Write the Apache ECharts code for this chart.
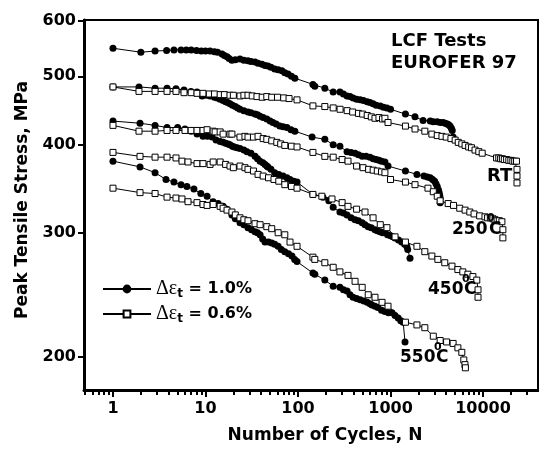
<!DOCTYPE html>
<html><head><meta charset="utf-8">
<script src="https://cdn.jsdelivr.net/npm/echarts@6/dist/echarts.min.js"></script>
<style>html,body{margin:0;padding:0;background:#fff}#c{width:539px;height:450px}</style>
</head><body><div id="c"></div>
<script>
// Cycles N, peak tensile stress (MPa)
const rt10 = [[1,548],[2,541],[2.85,543],[3.8,544],[4.56,545],[5.44,545],[6.2,545],[7,545],[8,544],[9,543],[10,543],[11.2,543],[12.5,542],[13.5,541],[15.1,538],[16,535],[17.1,533],[18,530],[19.3,527],[21,528],[23.6,529],[26,527],[28.8,526],[31,525],[34.3,524],[37,522],[40.8,520],[44,518],[47.3,517],[51,515],[56,512],[61,511],[67,509],[72,506],[78,504],[85,500],[92.5,497],[145,487],[152,484],[195,481],[240,475],[284,475],[310,472],[339,469],[365,468],[394,466],[430,464],[470,463],[510,462],[560,460],[600,459],[648,457],[700,455],[775,454],[840,452],[915,451],[1000,449],[1450,442],[1840,438],[2250,433],[2690,432],[2900,431],[3200,431],[3450,430],[3700,430],[3900,429],[4100,428],[4250,427],[4400,425],[4550,422],[4650,419],[4750,410]];
const rt06 = [[1,483],[1.91,476],[2.85,476],[3.84,476],[4.8,476],[5.86,474],[7,474],[8.1,473],[9.4,473],[11,472],[12.5,472],[14.4,471],[16,471],[18.4,470],[20,470],[23.6,469],[26,470],[28.8,470],[32,469],[36,468],[41,467],[46,468],[52,467],[60,467],[70,466],[80,465],[97.6,463],[145,454],[195,453],[240,451],[285,449],[340,447],[390,445],[450,443],[500,442],[560,440],[620,438],[680,436],[750,437],[820,435],[870,436],[940,430],[1450,425],[1840,421],[2350,418],[2800,414],[3200,412],[3600,411],[4000,410],[4500,408],[5000,406],[5400,403],[5900,401],[6400,399],[7000,397],[7500,396],[8200,393],[9000,391],[9800,389],[14000,383],[14800,383],[15500,382],[16200,382],[17000,381],[18000,381],[19000,380],[20000,380],[21000,379],[22000,379],[23000,379],[23300,369],[23300,361],[23300,353]];
const t250_10 = [[1,483],[1.91,483],[2.85,481],[3.84,481],[4.8,480],[5.86,478],[6.97,476],[8.1,475],[9.2,469],[10.2,470],[11.2,469],[12.5,467],[13.4,466],[14.4,464],[15.5,462],[16.5,460],[17.4,459],[18.4,457],[19.6,455],[21,453],[22.3,451],[23.6,449],[26,447],[28.8,445],[31,444],[34.3,442],[36.5,441],[38.9,439],[42,437],[46,435],[50,432],[53.6,430],[58,428],[63.5,425],[69,424],[76,423],[84,420],[92.5,418],[142,410],[195,407],[240,400],[284,398],[339,391],[375,390],[414,389],[450,387],[494,385],[545,385],[600,384],[650,382],[700,381],[750,380],[800,379],[870,378],[940,373],[1450,367],[1930,363],[2300,361],[2500,360],[2690,359],[2850,357],[3000,355],[3100,352],[3200,349],[3300,345],[3350,342],[3400,339],[3440,336],[3440,331]];
const t250_06 = [[1,426],[1.91,418],[2.85,418],[3.84,419],[4.8,419],[6,419],[7,419],[8.1,419],[9.4,419],[10.4,420],[12.1,418],[12.7,417],[14.4,417],[15.5,414],[18.4,414],[19.3,414],[23.6,410],[26.7,411],[28.8,410],[33,410],[37,411],[42,408],[46,407],[52,405],[59,403],[65,401],[72,399],[85,398],[97.6,397],[145,390],[195,385],[240,384],[300,381],[347,379],[430,373],[505,371],[580,369],[650,368],[720,367],[800,366],[870,365],[1000,357],[1450,354],[1840,351],[2540,347],[2900,343],[3200,338],[3440,333],[4200,330],[4800,328],[5600,325],[6400,323],[7200,321],[8000,319],[9200,317],[10500,316],[11200,315],[12000,315],[12800,314],[13500,313],[14200,312],[15000,312],[16000,311],[16400,303],[16400,295]];
const t450_10 = [[1,432],[1.96,429],[2.85,426],[3.84,423],[5,423],[6,421],[7,418],[8.1,414],[9.4,411],[10.5,411],[11.8,410],[13,406],[14.4,404],[15.5,403],[16.5,402],[17.5,401],[18.4,400],[19.5,398],[20.5,397],[22,396],[23.6,395],[26,393],[28.1,391],[31,389],[34.3,385],[36.5,382],[38.9,379],[41.8,377],[44,375],[46,373],[47.3,372],[51,369],[56,365],[62,363],[68.9,361],[76,359],[82,357],[90,355],[97.6,354],[145,340],[186,337],[215,333],[240,326],[284,321],[310,320],[339,318],[375,315],[414,313],[450,312],[494,310],[530,308],[574,306],[620,305],[680,303],[720,302],[770,301],[820,300],[870,300],[930,298],[1000,297],[1060,296],[1120,295],[1220,293],[1320,291],[1420,289],[1500,287],[1535,284],[1625,276]];
const t450_06 = [[1,390],[1.96,385],[2.85,384],[3.84,384],[4.8,383],[5.57,379],[6.47,378],[8.1,376],[9.4,376],[11.2,375],[12.1,378],[14.4,378],[16.5,375],[18.4,373],[20,371],[23.6,373],[26.7,371],[28.8,369],[33,367],[37,363],[42,361],[48,359],[55,357],[62,355],[72,351],[85,349],[97.6,347],[145,340],[181,338],[233,335],[300,331],[347,327],[430,324],[530,321],[648,315],[775,308],[915,305],[1120,296],[1450,291],[1930,287],[2350,282],[2800,278],[3250,275],[3860,272],[4620,269],[5350,266],[6050,264],[6860,262],[7770,260],[8560,257],[8830,249],[8830,243]];
const t550_10 = [[1,379],[1.96,372],[2.85,365],[3.74,357],[4.56,354],[5.44,351],[6.3,349],[7.5,346],[8.9,341],[10.4,338],[12.1,332],[13.7,330],[15.5,327],[17,324],[19.3,318],[21,314],[23.6,310],[26,308],[28.8,305],[31.5,303],[34.3,301],[36.5,300],[38.9,298],[41.5,294],[44,291],[48,291],[52,290],[56,289],[61,287],[66,284],[72,282],[79,280],[86,278],[92,275],[97.6,273],[145,263],[152,262],[195,257],[240,252],[284,251],[310,249],[339,248],[365,245],[394,243],[430,242],[470,241],[515,240],[560,239],[600,238],[630,237],[680,236],[730,235],[800,233],[870,232],[950,231],[1040,231],[1120,229],[1210,227],[1290,225],[1370,224],[1435,210]];
const t550_06 = [[1,347],[1.96,342],[2.85,341],[3.84,337],[4.8,336],[5.57,335],[6.47,332],[8.1,331],[9.4,329],[10.4,328],[12.1,329],[14.4,327],[15.5,325],[17.1,323],[19.3,321],[21,318],[23.6,315],[26,313],[28.8,312],[34.3,309],[38.9,308],[46,306],[52,304],[61,300],[72,298],[82,291],[97.6,287],[145,277],[152,275],[195,272],[240,268],[284,264],[347,261],[414,256],[494,251],[574,245],[680,243],[810,239],[940,236],[1450,224],[1930,222],[2350,220],[2900,214],[3440,211],[4040,210],[4750,209],[5350,206],[5900,203],[6200,198],[6380,195],[6450,193]];

const xMajorTicks = [1, 10, 100, 1000, 10000];
const xMinorTicks = [0.5,0.6,0.7,0.8,0.9,2,3,4,5,6,7,8,9,20,30,40,50,60,70,80,90,200,300,400,500,600,700,800,900,2000,3000,4000,5000,6000,7000,8000,9000,20000,30000];
const yTicks = [200, 300, 400, 500, 600];
const legendNames = ['d10', 'd06'];
const legendLabels = ['1.0%', '0.6%'];

const F = 'DejaVu Sans';
const chart = echarts.init(document.getElementById('c'), null, {renderer: 'canvas'});

function filled(data) {
  return {type:'line', name:'d10', data:data, symbol:'circle', symbolSize:7, showSymbol:true, showAllSymbol:true,
    itemStyle:{color:'#000', borderColor:'#000', borderWidth:0}, lineStyle:{color:'#000', width:1}, z:3};
}
function open(data) {
  return {type:'line', name:'d06', data:data, symbol:'rect', symbolSize:6, showSymbol:true, showAllSymbol:true,
    itemStyle:{color:'#fff', borderColor:'#000', borderWidth:1}, lineStyle:{color:'#000', width:1}, z:4};
}
const legRich = {
  g:{fontFamily:'Liberation Serif', fontSize:20, color:'#000'},
  s:{fontFamily:F, fontWeight:'bold', fontSize:12, color:'#000', padding:[10,0,0,0]},
  b:{fontFamily:F, fontWeight:'bold', fontSize:16, color:'#000'}
};
function legend(i, top, h) {
  return {data:[legendNames[i]], left:102, top:top, itemWidth:48, itemHeight:h, itemGap:4, padding:0, selectedMode:false,
    formatter:function(){ return '{g|Δε}{s|t}{b| = ' + legendLabels[i] + '}'; },
    textStyle:{rich:legRich}};
}
function txt(x, y, s, size, extra) {
  const st = {text:s, font:'bold ' + size + 'px "' + F + '"', fill:'#000', align:'left', verticalAlign:'middle'};
  if (extra) Object.assign(st, extra);
  return {type:'text', x:x, y:y, style:st, z:10};
}

chart.setOption({
  animation:false,
  backgroundColor:'#fff',
  grid:{left:84, top:20, width:454, height:370, show:true, borderColor:'#000', borderWidth:2, backgroundColor:'transparent'},
  legend:[legend(0, 279, 11), legend(1, 304, 8.5)],
  xAxis:[
    {type:'log', logBase:10, min:0.486, max:39300, position:'bottom',
     axisLine:{show:true, onZero:false, lineStyle:{color:'#000', width:3}},
     axisTick:{show:true, inside:false, length:7, customValues:xMajorTicks, lineStyle:{color:'#000', width:2}},
     axisLabel:{customValues:xMajorTicks, margin:11, color:'#000', fontFamily:F, fontWeight:'bold', fontSize:16,
       formatter:function(v){ return String(Math.round(v)); }},
     splitLine:{show:false}, minorTick:{show:false}},
    {type:'log', logBase:10, min:0.486, max:39300, position:'bottom', gridIndex:0,
     axisLine:{show:false},
     axisTick:{show:true, inside:false, length:5, customValues:xMinorTicks, lineStyle:{color:'#000', width:2}},
     axisLabel:{show:false}, splitLine:{show:false}}
  ],
  yAxis:[{type:'log', logBase:10, min:179.5, max:601,
     axisLine:{show:true, onZero:false, lineStyle:{color:'#000', width:3}},
     axisTick:{show:true, inside:false, length:6, customValues:yTicks, lineStyle:{color:'#000', width:2}},
     axisLabel:{customValues:yTicks, margin:8, color:'#000', fontFamily:F, fontWeight:'bold', fontSize:16,
       formatter:function(v){ return String(Math.round(v)); }},
     splitLine:{show:false}}],
  graphic:[
    txt(391, 41.5, 'LCF Tests', 18),
    txt(391, 63.5, 'EUROFER 97', 18),
    txt(487, 176, 'RT', 18),
    txt(452, 229.5, '250', 17), txt(487, 218, '0', 11), txt(489, 229.5, 'C', 17),
    txt(428, 290, '450', 17), txt(462, 279, '0', 11), txt(464, 290, 'C', 17),
    txt(400, 357.5, '550', 17), txt(434, 347, '0', 11), txt(436, 357.5, 'C', 17),
    txt(325, 436, 'Number of Cycles, N', 17, {align:'center'}),
    {type:'text', x:14, y:200, rotation:Math.PI/2, style:{text:'Peak Tensile Stress, MPa', font:'bold 17px "' + F + '"', fill:'#000', align:'center', verticalAlign:'top'}}
  ],
  series:[filled(rt10), filled(t250_10), filled(t450_10), filled(t550_10),
          open(rt06), open(t250_06), open(t450_06), open(t550_06)]
});
</script></body></html>
